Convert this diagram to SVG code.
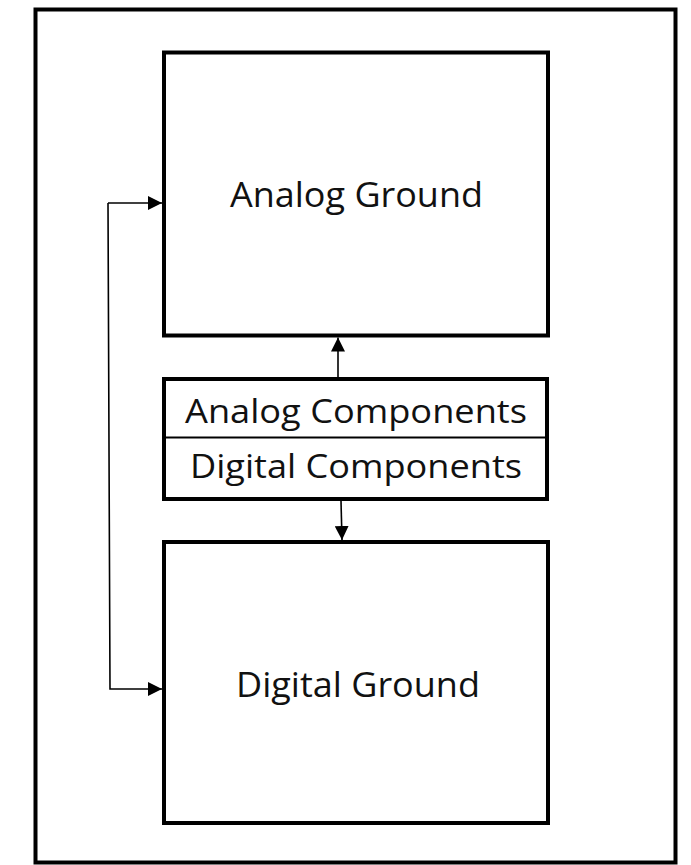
<svg xmlns="http://www.w3.org/2000/svg" width="691" height="865" viewBox="0 0 691 865">
  <style>
    .box { fill: #ffffff; stroke: #000000; stroke-width: 4; }
    .lbl { font-family: "Open Sans", "Liberation Sans", sans-serif; fill: #111111; text-anchor: middle; }
    .big { font-size: 35px; }
    .mid { font-size: 33px; }
    .conn { fill: none; stroke: #000000; stroke-width: 1.6; }
  </style>
  <defs>
    <marker id="arrow" viewBox="0 0 10 10" refX="10" refY="5" markerWidth="14" markerHeight="14" markerUnits="userSpaceOnUse" orient="auto">
      <path d="M0,0 L10,5 L0,10 z" fill="#000000"/>
    </marker>
  </defs>
  <rect width="691" height="865" fill="#ffffff"/>
  <g id="frame">
    <rect class="box" x="35.5" y="9.5" width="640" height="853"/>
  </g>
  <g id="analog-ground">
    <rect class="box" x="164" y="52.5" width="384" height="283"/>
    <text class="lbl big" x="356.5" y="207" textLength="253" lengthAdjust="spacingAndGlyphs">Analog Ground</text>
  </g>
  <g id="components">
    <rect class="box" x="164" y="379" width="383" height="120"/>
    <line x1="164" y1="437.5" x2="547" y2="437.5" stroke="#000000" stroke-width="2"/>
    <text class="lbl mid" x="356" y="423" textLength="342" lengthAdjust="spacingAndGlyphs">Analog Components</text>
    <text class="lbl mid" x="356" y="478" textLength="332" lengthAdjust="spacingAndGlyphs">Digital Components</text>
  </g>
  <g id="digital-ground">
    <rect class="box" x="164" y="542" width="384" height="281"/>
    <text class="lbl big" x="358" y="697" textLength="244" lengthAdjust="spacingAndGlyphs">Digital Ground</text>
  </g>
  <g id="connectors">
    <path class="conn" d="M338,377 V337.5" marker-end="url(#arrow)"/>
    <path class="conn" d="M341,501 L342,540" marker-end="url(#arrow)"/>
    <path class="conn" d="M108,203 H162" marker-end="url(#arrow)"/>
    <path class="conn" d="M108,203 L110,689 H162" marker-end="url(#arrow)"/>
  </g>
</svg>
